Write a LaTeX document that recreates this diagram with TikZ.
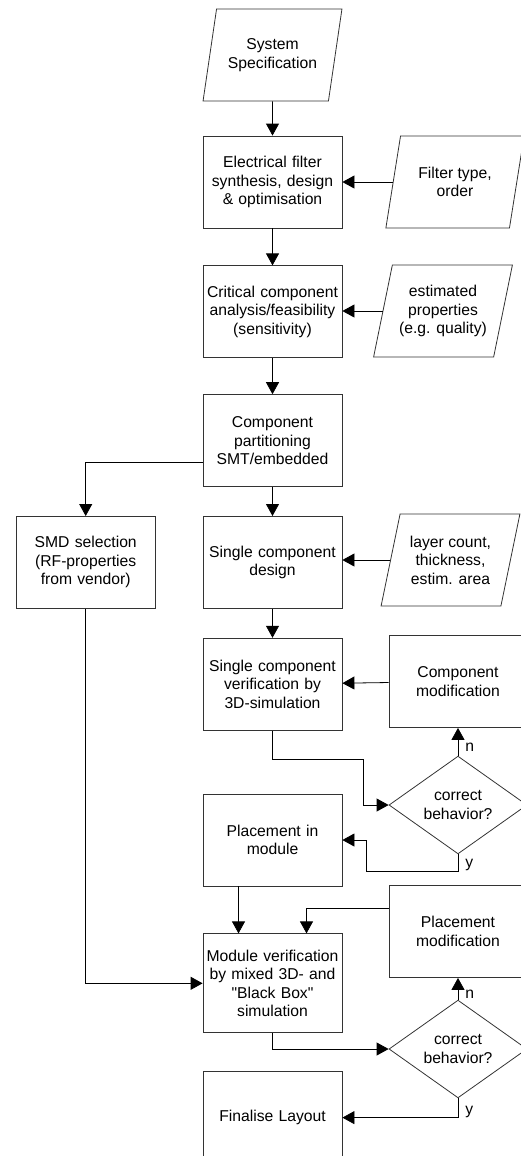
\documentclass[tikz,border=0pt]{standalone}
\usepackage{fontspec}
\setmainfont{Liberation Sans}[Ligatures=TeXOff]
\usetikzlibrary{
	shapes.geometric,
	arrows.meta,
	positioning
}

\begin{document}
\begin{tikzpicture}[
    x=1bp, y=-1bp,
    font=\fontsize{15.7bp}{18.5bp}\selectfont,
    box/.style={rectangle, draw=black!80, line width=0.8bp, minimum width=139bp, minimum height=92bp, text width=133bp, align=center, inner sep=2bp},
    io/.style={trapezium, trapezium left angle=73, trapezium right angle=107, trapezium stretches=true, draw=black!80, line width=0.8bp, minimum width=139bp, minimum height=92bp, align=center, inner sep=2bp},
    decision/.style={diamond, draw=black!80, line width=0.8bp, minimum width=138bp, minimum height=92bp, align=center, inner sep=0pt},
    lbl/.style={inner sep=1bp},
    arrow/.style={line width=0.8bp, -{Triangle[length=12bp,width=13bp]}}
]
\useasboundingbox (0,0) rectangle (521,1156);
\clip (0,0) rectangle (521,1156);

% Nodes
\node[io] (spec) at (272.5,55) {System\\Specification};
\node[box] (synth) at (272.5,182) {Electrical filter\\synthesis, design\\\& optimisation};
\node[box, below=37bp of synth] (crit) {Critical component\\analysis/feasibility\\(sensitivity)};
\node[box, below=36bp of crit] (part) {Component\\partitioning\\SMT/embedded};
\node[box, below=29bp of part] (design) {Single component\\design};
\node[box, below=29bp of design] (verif) {Single component\\verification by\\3D-simulation};
\node[box, below=63bp of verif] (place) {Placement in\\module};
\node[box, below=47bp of place, minimum height=99bp] (modver) {Module verification\\by mixed 3D- and\\"Black Box"\\simulation};
\node[box, below=38bp of modver] (final) {Finalise Layout};
\node[box, left=47bp of design] (smd) {SMD selection\\(RF-properties\\from vendor)};

\node[io] (ftype) at (455,182) {Filter type,\\order};
\node[io] (est) at (443,311) {estimated\\properties\\(e.g. quality)};
\node[io] (layer) at (450.5,560) {layer count,\\thickness,\\estim. area};
\node[box, minimum width=138bp] (cmod) at (458,681.5) {Component\\modification};
\node[decision] (dec1) at (458,805) {correct\\behavior?};
\node[box, minimum width=138bp] (pmod) at (458,931.5) {Placement\\modification};
\node[decision] (dec2) at (458,1049) {correct\\behavior?};

% Arrows
\draw[arrow] (spec) -- (synth);
\draw[arrow] (synth) -- (crit);
\draw[arrow] (crit) -- (part);
\draw[arrow] (part) -- (design);
\draw[arrow] (design) -- (verif);
\draw[arrow] (ftype.west) -- (ftype.west -| synth.east);
\draw[arrow] (est.west) -- (est.west -| crit.east);
\draw[arrow] (layer.west) -- (layer.west -| design.east);
\draw[arrow] (cmod) -- (verif);
\draw[arrow] ([xshift=-34bp]place.south) -- ([xshift=-34bp]modver.north);

% Connections
\draw[arrow] ([yshift=-22bp]part.west) -| (smd.north);
\draw[arrow] (smd.south) |- (modver.west);
\draw[arrow] (verif.south) |- ([xshift=-25bp,yshift=46bp]dec1.west) |- (dec1.west);
\draw[arrow] (dec1.north) -- node[lbl, right=6bp, pos=0.29] (n1) {n} (cmod.south);
\draw[arrow] (dec1.south) |- node[lbl, right=6bp, pos=0.33] (y1) {y} ([xshift=24bp,yshift=-31bp]place.east) |- (place.east);
\draw[arrow] ([yshift=23.5bp]pmod.west) -| ([xshift=34bp]modver.north);
\draw[arrow] (modver.south) |- (dec2.west);
\draw[arrow] (dec2.north) -- node[lbl, right=6bp, pos=0.26] (n2) {n} (pmod.south);
\draw[arrow] (dec2.south) |- node[lbl, right=6bp, pos=0.36] (y2) {y} (final.east);

\end{tikzpicture}
\end{document}
